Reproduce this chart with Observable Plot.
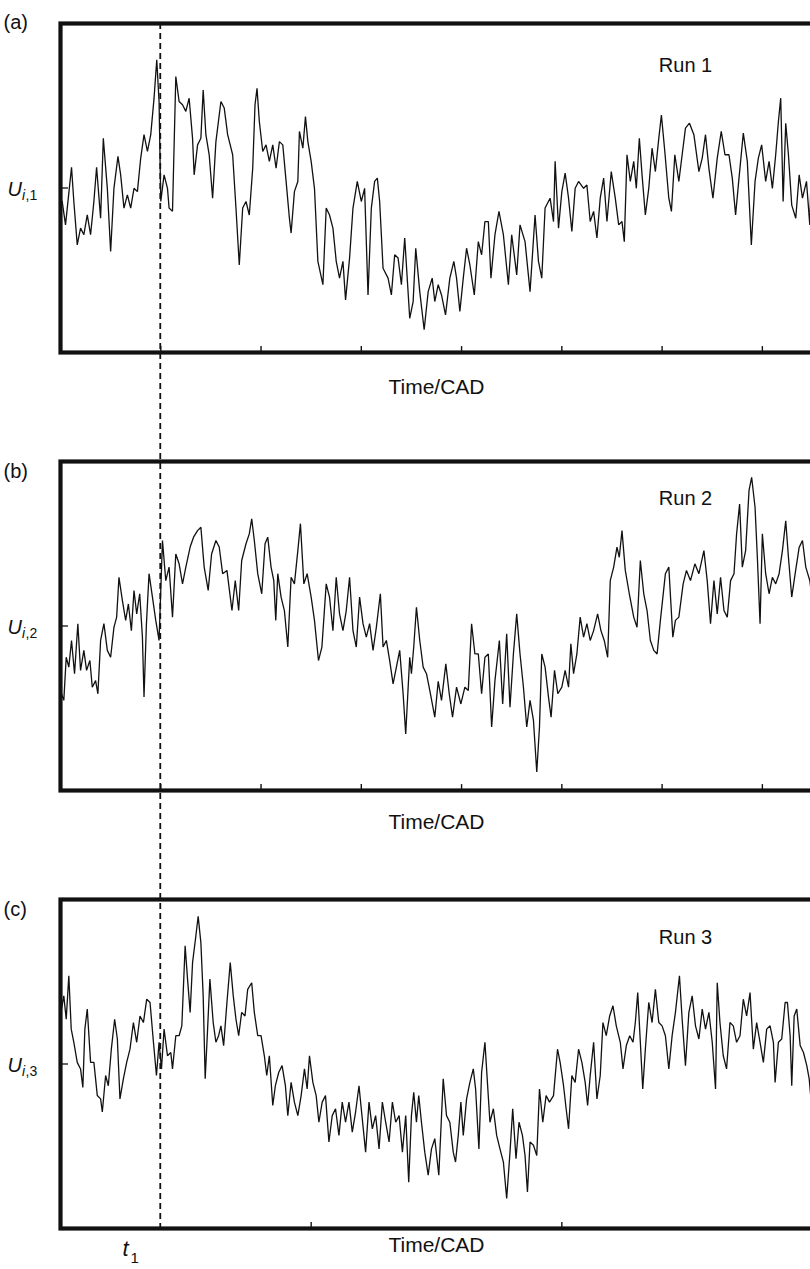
<!DOCTYPE html>
<html>
<head>
<meta charset="utf-8">
<script src="https://cdn.jsdelivr.net/npm/d3@7"></script>
<script src="https://cdn.jsdelivr.net/npm/@observablehq/plot@0.6"></script>
<style>
  html, body { margin: 0; padding: 0; background: #fff; overflow: hidden; }
  #chart svg { display: block; }
</style>
</head>
<body>
<div id="chart"></div>
<script>
// Three repeated runs of the same signal U over time (arbitrary units, 0–100 vertical).
// Each run is a list of [time, U] samples.
const run1 = [
  [1.7,45.9],[5,38.8],[11,56.3],[13.3,45.9],[16.7,32.7],[20,37.8],[23.3,35.8],[26.7,41.8],[30,35.8],[33.3,45.9],
  [36,56.3],[40,40.8],[42.7,65.1],[46.7,49.9],[50,30.7],[53.3,49.9],[57.3,59.6],[60,54],[63.3,43.9],[66.7,47.9],
  [70,43.9],[73.3,49.9],[76.7,48.9],[80,59.1],[83.3,66.2],[86.7,61.1],[90,66.2],[93.3,77.3],[96,89],[98.3,76.3],
  [100,45.9],[103.3,54],[106.7,49.9],[108.3,43.9],[111.7,42.9],[115,83.9],[118.3,76.3],[121.7,75.3],[125,73.3],[128.3,77.3],
  [131.7,65.1],[133.3,54],[136.7,63.1],[140,65.1],[142.3,79.8],[145,66.2],[148.3,60.1],[151.7,46.9],[155,64.1],[160,76.3],
  [163.3,74.3],[166.7,66.2],[171.7,60.1],[175,43.9],[178.3,26.6],[181.7,43.9],[185,45.9],[188.3,41.8],[191.7,56],[194,75.3],
  [196,80.3],[198.3,70.2],[201.7,61.1],[205,63.1],[208.3,58.1],[211.7,63.1],[215,56],[218.3,64.1],[221.7,63.1],[225,52],
  [228.3,40.8],[230,36.3],[233.3,48.9],[236.7,52],[238.3,67.2],[241.7,62.1],[244.3,71.7],[246.7,64.1],[250,58.1],[253.3,49.9],
  [256.7,27.7],[261.7,20.6],[265,43.9],[268.3,41.8],[271.7,37.8],[275,27.7],[278.3,22.6],[281.7,27.7],[284.3,16],[288.3,28.7],
  [291.7,43.9],[296,52],[300,45.9],[303.3,49.9],[306.7,17.5],[310,43.9],[313.3,52],[316,53],[318.3,45.9],[321.7,25.6],
  [326.7,22.6],[330,17.5],[333.3,29.7],[336.7,28.7],[340,20.6],[343.3,34.8],[348.3,10.4],[351.7,15.5],[354.3,31.7],[358.3,18.5],
  [362.7,6.9],[366.7,18.5],[370.7,22.6],[373.3,15.5],[376.7,20.6],[380,17.5],[384,11.4],[388.3,22.6],[392.3,27.7],[395,22.6],
  [398.3,12.5],[401.7,22.6],[405,31.7],[408.3,26.6],[412.7,17.5],[416.7,33.7],[420,29.7],[423.3,39.8],[426.7,39.8],[429.3,22.6],
  [433.3,35.8],[437.3,42.9],[441.7,35.8],[446.7,20.6],[450,35.8],[455,23.6],[458.3,38.8],[463.3,33.7],[468.3,18.5],[473.3,41.8],
  [476.7,27.7],[480,22.6],[483.3,43.9],[488.3,46.9],[491.7,39.8],[493.3,58.1],[496.7,37.8],[500,48.9],[503.3,54.5],[506.7,46.9],
  [510,36.8],[513.3,49.9],[516.7,52],[521.7,49.9],[525,50.9],[528.3,39.8],[531.7,42.9],[535,34.8],[538.3,46.9],[541.7,53],
  [545,39.8],[549.3,55],[553.3,46.9],[556.7,38.8],[560,39.8],[562.3,33.7],[565,60.1],[568.3,52],[571.7,58.1],[574.3,49.9],
  [577.3,65.1],[580,54],[583.3,41.8],[586.7,49.9],[590,62.1],[593.3,55],[596.7,65.1],[599.3,72.2],[602.7,61.1],[606.7,46.9],
  [609.3,42.9],[612.7,60.1],[616.7,52],[620,60.1],[623.3,68.2],[627.3,69.7],[631.7,66.2],[636.7,55],[640,59.1],[643.3,66.2],
  [646.7,55.9],[650.7,46.9],[655,59.1],[659,67.2],[662.7,60.1],[666.7,60.1],[670,53],[673.3,41.8],[676.7,53],[681,66.7],
  [685,58.1],[689,32.7],[692.7,52],[696,59.1],[699.3,63.1],[703.3,52],[706.7,58.1],[710,49.9],[713.3,60.1],[716,70.2],
  [718.3,77.3],[720.7,45.9],[723.3,69.7],[726,60.1],[729.3,44.8],[733.3,40.8],[736.7,54],[740,46.9],[744,52],[747.3,38.8],
  [749.3,62.1]
];

const run2 = [
  [1,29.4],[3.3,27.4],[5.7,40.5],[8.3,37.5],[11,45.6],[14,35.5],[17.3,50.7],[20,36.5],[23.3,42.6],[26,36.5],
  [29.3,39.5],[31.7,31.4],[35,33.4],[37.3,29.4],[40,45.6],[43.3,50.7],[46.7,42.6],[50,40.5],[53.3,49.6],[56,52.7],
  [58.3,64.8],[61.7,57.8],[65,51.7],[67.7,56.7],[70.7,48.6],[73.3,60.8],[76,53.7],[79,59.8],[81.7,46.6],[83.3,28.4],
  [85.7,50.7],[88.3,65.9],[91.7,58.8],[95,51.7],[98.3,45.6],[101.7,76],[105,63.8],[108.3,67.9],[111.7,52.7],[115,71.9],
  [118.3,68.9],[121.7,62.8],[125,67.9],[129.3,74],[132.7,77],[136.7,79],[140,80],[143.3,67.9],[147.3,60.8],[150.7,71.9],
  [155,76],[158.3,74],[161.7,65.9],[166,66.9],[171,54.7],[174.3,63.8],[177.7,54.7],[180.7,69.9],[185,75],[188.3,78],
  [190.7,82.6],[193.3,76],[196.7,65.9],[200.7,59.8],[204,75],[206.7,77],[210,67.9],[212.7,63.8],[214.7,51.7],[216.7,65.9],
  [220,58.8],[223.3,54.7],[226.7,43.6],[230,64.8],[233.3,62.8],[236.7,72.9],[239.3,81.1],[242.7,62.8],[246,65.9],[250,58.8],
  [253.3,51.7],[257.3,39.5],[260.7,43.6],[265,62.8],[268.3,58.8],[271.7,48.6],[275,64.8],[278.3,53.7],[281.7,48.6],[285,54.7],
  [288.3,64.8],[291.7,48.6],[295,43.6],[298.3,58.8],[301.7,50.7],[305,46.6],[308.3,50.7],[311.7,42.6],[315,49.6],[319,59.8],
  [321.7,43.6],[325,45.6],[328.3,39.5],[331.7,32.4],[335,37.5],[338.3,42.6],[341.7,29.4],[344.3,17.2],[348.3,40.5],[350,35.5],
  [352.3,43.6],[355,55.7],[358.3,45.6],[361.7,37.5],[365,35.5],[368.3,30.4],[373.3,22.3],[376.7,33.2],[380,27.4],[384.3,38.5],
  [387.7,29.4],[391,22.3],[395,31.4],[399.3,26.3],[403.3,31.4],[406.7,30.4],[410,50.7],[413.3,41.5],[416.7,41.5],[420,29.4],
  [423.3,40.5],[426.7,41.5],[430,19.3],[433.3,33.4],[437.7,45.6],[441,26.3],[445,47.6],[448.3,25.3],[451.7,41.5],[455,53.7],
  [458.3,41.5],[461.7,31.4],[465,19.3],[468.3,27.4],[471.7,21.3],[475,5.6],[477.7,19.3],[480,41.5],[483.3,37.5],[486.7,28.4],
  [489.3,22.3],[492.7,36.5],[496,29.4],[500,31.4],[503.3,36.5],[506.7,31.4],[509,44.6],[511.7,35.5],[515,41.5],[518.3,52.7],
  [521.7,46.6],[525,50.7],[528.3,45.6],[531.7,48.6],[535.7,53.7],[539,48.6],[542.3,45.6],[545.7,40.5],[548.3,63.8],[551.7,67.9],
  [555,74],[557.3,70.9],[560,79],[563.3,66.9],[567.3,59.8],[571.7,52.7],[575,49.6],[578.3,69.9],[581.7,59.8],[585,54.7],
  [588.3,45.6],[591.7,42.6],[595,41.5],[598.3,51.7],[603.3,65.9],[606.7,67.9],[610.7,46.6],[613.3,51.7],[616.7,52.7],[621,62.8],
  [624.3,66.9],[628.3,63.8],[632.7,68.9],[636.7,65.9],[641.7,72.9],[645,63.8],[648.3,50.7],[651.7,63.8],[655,53.7],[658.3,64.8],
  [661.7,54.7],[665,52.7],[668.3,63.8],[671.7,65.9],[674.3,78],[677.3,87.1],[680,67.9],[683.3,72.9],[686.7,91.2],[689.3,95.2],
  [692.7,86.1],[695,70.9],[697.7,50.7],[700,78],[703.3,65.9],[706.7,59.8],[710,64.8],[713.3,62.8],[716.7,65.9],[720,72.9],
  [723.3,82],[726,70.9],[729.3,58.8],[732.7,65.9],[736.7,73.9],[740,76],[743.3,67.9],[747.3,63.8],[750,57.8]
];

const run3 = [
  [1,66.7],[3.3,70.7],[5.7,63.6],[8.3,76.8],[10.7,60.6],[13.3,56.6],[16.7,50.5],[20,48.5],[22.3,42.9],[24.3,60.6],
  [26.7,66.7],[30,50.5],[33.3,50.5],[36.7,40.4],[40,39.4],[41.7,35.4],[45,46.5],[47.7,43.4],[50.7,54.5],[54,63.6],
  [56.7,57.6],[59.3,39.4],[62.7,45.5],[66,50.5],[69.3,54.5],[72.7,62.6],[76,56.6],[79.3,64.6],[82.7,62.6],[86,69.7],
  [89.3,68.7],[92.7,56.6],[95.7,46.5],[98.3,56.6],[100.7,48.5],[103.3,60.6],[106.7,52.5],[110,53.5],[111.7,48.5],[115,58.6],
  [118.3,58.6],[121,61.6],[124.3,85.9],[126.7,75.8],[129.3,65.7],[131.7,80.8],[135,88.9],[137.3,94.9],[140,86.9],[142.3,70.7],
  [144.3,45.5],[146.7,60.6],[149,75.8],[152.3,62.6],[155,56.6],[157.7,58.6],[160,61.6],[162.7,55.6],[166,68.7],[169.3,80.8],
  [172.3,70.7],[175,63.6],[177.7,58.6],[180.7,65.7],[184,64.6],[186.7,72.7],[190.7,74.7],[193.3,65.7],[196.7,58.6],[200,58.6],
  [203.3,52.5],[205.7,46.5],[208.3,52.5],[211.7,37.4],[214.3,43.4],[217.7,47.5],[221,49.5],[224.3,43.4],[226.7,34.3],[230,44.4],
  [233.3,38.4],[236.7,34.3],[240,40.4],[243.3,48.5],[246,42.4],[248.3,52.5],[251.7,44.4],[255,40.4],[257.7,32.3],[261,38.4],
  [264.3,40.4],[267.7,26.3],[271,34.3],[274.3,36.4],[277.7,28.3],[281,38.4],[284.3,32.3],[287.7,38.4],[291,29.3],[294.3,35.4],
  [297.7,43.4],[301,33.3],[304.3,23.2],[307.7,38.4],[311,30.3],[314.3,34.3],[317.7,24.2],[321,38.4],[324.3,32.3],[327.7,26.3],
  [331,38.4],[334.3,32.3],[337.7,34.3],[341,23.2],[344.3,34.3],[347.3,14.1],[350,34.3],[352.3,41.4],[355,32.3],[357.3,40.4],
  [360,32.3],[363.3,23.2],[366.7,16.2],[370,24.2],[373.3,27.3],[377.3,16.2],[381.7,45.5],[385,34.3],[388.3,32.3],[391.7,23.2],
  [394,20.2],[396.7,28.3],[399.3,38.4],[401.7,28.3],[405,39.4],[408.3,44.4],[411.7,48.5],[414,42.4],[417.3,24.2],[420,47.5],
  [423.3,56.6],[426,43.4],[428.3,32.3],[431.7,36.4],[435,28.3],[438.3,24.2],[441.7,20.2],[445,9.1],[448.3,23.2],[451,36.4],
  [454.3,21.2],[457.3,32.3],[460.7,28.3],[463.3,22.2],[465.7,11.1],[468.3,26.3],[471.7,25.3],[475,22.2],[477.7,42.4],[481,32.3],
  [484.3,40.4],[487.7,38.4],[491.7,40.4],[495.7,54.5],[498.3,50.5],[501.7,43.4],[504.3,36.4],[506.7,30.3],[510,46.5],[513.3,44.4],
  [516.7,54.5],[520,50.5],[523.3,44.4],[525.7,37.4],[528.3,46.5],[531.7,56.6],[535,39.4],[538.3,46.5],[541,62.6],[544.3,58.6],
  [547.7,64.6],[551,67.7],[554.3,61.6],[558.3,56.6],[561,48.5],[564.3,55.6],[567.7,58.6],[571,56.6],[573.3,62.6],[575.7,71.7],
  [578.3,56.6],[580.7,42.4],[583.3,54.5],[586.7,68.7],[590,62.6],[593.3,72.7],[596.7,62.6],[600,61.6],[603.3,58.6],[606.7,48.5],
  [610,58.6],[613.3,65.7],[617.3,76.8],[620,63.6],[623.3,49.5],[626.7,65.7],[630,70.7],[633.3,61.6],[636.7,57.6],[640,66.7],
  [643.3,60.6],[646.7,65.7],[650,56.6],[653.3,42.4],[655,74.7],[657.7,62.6],[661,52.5],[664.3,48.5],[667.7,62.6],[671,61.6],
  [674.3,56.6],[677.7,58.6],[681,69.7],[684.3,64.6],[687.7,71.7],[691,54.5],[694.3,62.6],[697.7,56.6],[701,50.5],[704.3,60.6],
  [707.7,61.6],[711,56.6],[712.7,44.4],[716,56.6],[719.3,57.6],[722.7,68.7],[725,68.7],[727.7,58.6],[729.3,43.4],[731.7,64.6],
  [734.3,66.7],[737.7,55.6],[741,53.5],[744.3,49.5],[746.7,45.5],[749.3,36.4]
];

// Panel identifiers and their text
const panels = ["a", "b", "c"];
const panelTags = ["(a)", "(b)", "(c)"];
const runNames = ["Run 1", "Run 2", "Run 3"];
const runIndex = ["1", "2", "3"];
const xLabel = "Time/CAD";

// Tick marks along each time axis, and the reference level on the U axis
const timeTicks = [[100, 200, 300, 400, 500, 600, 700], [100, 200, 300, 400, 500, 600, 700], [250, 500]];
const uTick = 50;
const t1 = 100;

// Flatten into long-format rows for faceting
const series = [run1, run2, run3];
const rows = series.flatMap((run, i) => run.map(([t, u]) => ({panel: panels[i], t, u})));
const tickRows = timeTicks.flatMap((ticks, i) => ticks.map((t) => ({panel: panels[i], t})));

// Layout
const W = 816, H = 1269;
const mL = 60, mR = 4, mT = 22, mB = 39;
const gapRatio = 0.248;
const plotW = W - mL - mR;
const step = (H - mT - mB) / (panels.length - gapRatio);
const bandH = step * (1 - gapRatio);

const font = "'Liberation Sans', Arial, Helvetica, sans-serif";
const ink = "#111";

// Per-panel text offsets (pixels)
const tagDy = [-9, 2, 2];
const runDy = [34, 29.5, 30.5];
const xLabelDy = [41, 38.5, 23.5];

const panelMarks = panels.flatMap((p, i) => [
  Plot.text([panelTags[i]], {fy: () => p, frameAnchor: "top-left", dx: -57, dy: tagDy[i], textAnchor: "start",
    fontSize: 20, fill: ink}),
  Plot.text([runNames[i]], {fy: () => p, frameAnchor: "top-left", dx: 625, dy: runDy[i], textAnchor: "middle",
    fontSize: 20, fill: ink}),
  Plot.text([xLabel], {fy: () => p, frameAnchor: "bottom", dy: xLabelDy[i], textAnchor: "middle",
    fontSize: 21, fill: ink}),
  Plot.text([runIndex[i]], {fy: () => p, y: () => uTick, frameAnchor: "left", text: (d) => "," + d,
    dx: -35, dy: 7.5, textAnchor: "start", fontSize: 14, fill: ink})
]);

const chart = Plot.plot({
  width: W,
  height: H,
  marginLeft: mL,
  marginRight: mR,
  marginTop: mT,
  marginBottom: mB,
  style: {fontFamily: font, background: "#fff", maxWidth: "none", overflow: "visible"},
  x: {domain: [0, 750], axis: null},
  y: {domain: [0, 100], axis: null},
  fy: {domain: panels, paddingInner: gapRatio, paddingOuter: 0, axis: null, label: null},
  marks: [
    // data traces
    Plot.line(rows, {x: "t", y: "u", fy: "panel", z: "panel", stroke: ink, strokeWidth: 1.3, strokeLinejoin: "miter"}),
    // inward time ticks on the bottom edge
    Plot.tickX(tickRows, {x: "t", fy: "panel", insetTop: bandH - 7, stroke: ink, strokeWidth: 1.4}),
    // inward tick marking the U level on the left edge
    Plot.tickY([uTick], {y: (d) => d, insetRight: plotW - 8, stroke: ink, strokeWidth: 1.3}),
    // heavy frame around each panel
    Plot.frame({stroke: ink, strokeWidth: 4.2}),
    // U axis label: italic U with subscript i,k
    Plot.text([uTick], {y: (d) => d, frameAnchor: "left", text: () => "U", dx: -53, dy: 1.5,
      textAnchor: "start", fontStyle: "italic", fontSize: 20, fill: ink}),
    Plot.text([uTick], {y: (d) => d, frameAnchor: "left", text: () => "i", dx: -38.5, dy: 7.5,
      textAnchor: "start", fontStyle: "italic", fontSize: 14, fill: ink}),
    ...panelMarks,
    // t1 marker label under the last panel
    Plot.text(["t"], {fy: () => panels[2], frameAnchor: "bottom-left", dx: 62, dy: 27, textAnchor: "start",
      fontStyle: "italic", fontSize: 22, fill: ink}),
    Plot.text(["1"], {fy: () => panels[2], frameAnchor: "bottom-left", dx: 70, dy: 34, textAnchor: "start",
      fontSize: 15, fill: ink})
  ]
});

// Dashed marker at t1 running through all three panels, placed with the plot's own scales
const xs = chart.scale("x");
const fys = chart.scale("fy");
const xPos = xs.apply(t1);
const yTop = fys.apply(panels[0]);
const yBottom = fys.apply(panels[panels.length - 1]) + fys.bandwidth;
d3.select(chart).append("line")
  .attr("x1", xPos).attr("x2", xPos)
  .attr("y1", yTop).attr("y2", yBottom)
  .attr("stroke", ink)
  .attr("stroke-width", 1.8)
  .attr("stroke-dasharray", "6,4");

document.getElementById("chart").append(chart);
</script>
</body>
</html>
